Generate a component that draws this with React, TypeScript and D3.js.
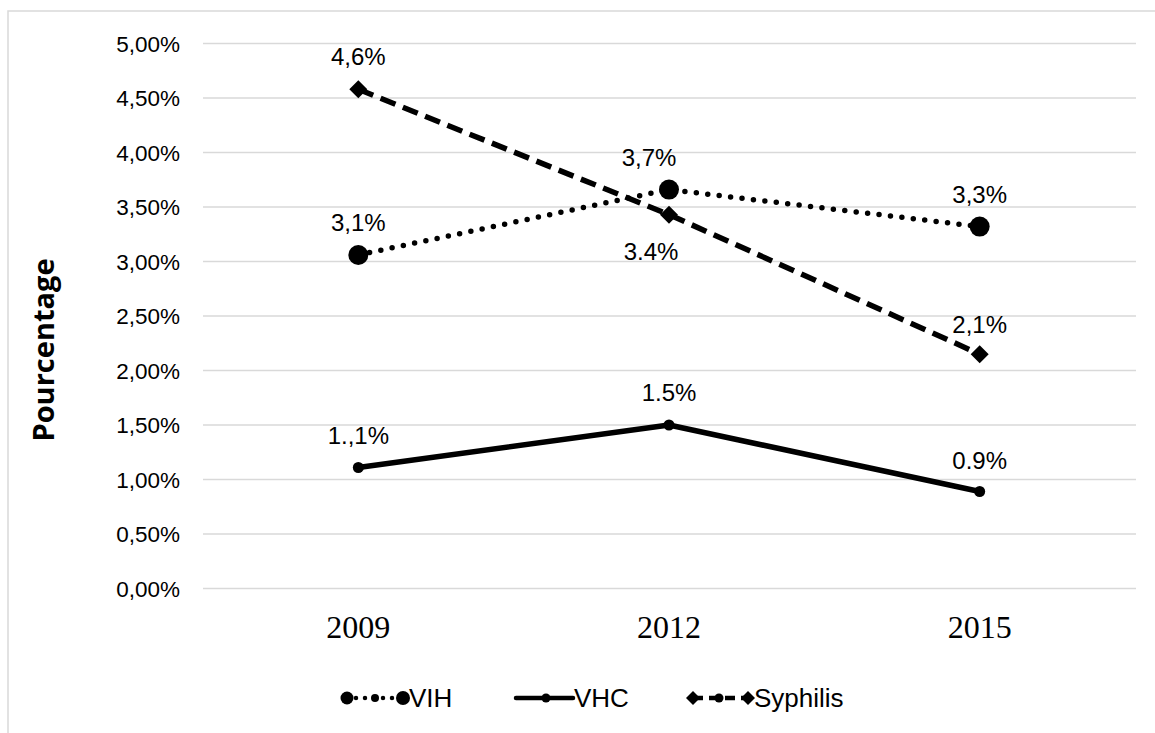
import React from 'react';
import * as d3 from 'd3';

const years = ['2009', '2012', '2015'];
const vihValues = [0.0306, 0.0366, 0.0332];
const vhcValues = [0.0111, 0.015, 0.0089];
const syphilisValues = [0.0458, 0.0343, 0.0215];
const vihLabels = ['3,1%', '3,7%', '3,3%'];
const vhcLabels = ['1.,1%', '1.5%', '0.9%'];
const syphilisLabels = ['4,6%', '3.4%', '2,1%'];
const yTicks = d3.range(0, 11).map(i => i * 0.005);

const W = 1155;
const H = 733;
const plot = { left: 203, right: 1135, top: 43.5, bottom: 588.5 };
const narrow = "'Liberation Sans Narrow', 'Liberation Sans', Arial, sans-serif";

const frLocale = d3.formatLocale({ decimal: ',', thousands: ' ', grouping: [3], currency: ['', '€'] });
const tickFormat = frLocale.format('.2%');

// label nudges (dx, dy from the point)
const vihLabelPos = [[0, -24], [-20, -24], [0, -24]];
const vhcLabelPos = [[0, -24], [0, -24], [0, -22]];
const syphilisLabelPos = [[0, -24], [-18, 45], [0, -21]];

const App = () => {
  const x = d3.scaleBand().domain(years).range([plot.left, plot.right]).padding(0);
  const y = d3.scaleLinear().domain([0, 0.05]).range([plot.bottom, plot.top]);
  const cx = (yr: string) => (x(yr) as number) + x.bandwidth() / 2;

  const line = d3.line<number>()
    .x((_, i) => cx(years[i]))
    .y(d => y(d));

  const diamond = (px: number, py: number, r: number) =>
    `M${px},${py - r}L${px + r},${py}L${px},${py + r}L${px - r},${py}Z`;

  const labels = (vals: number[], texts: string[], pos: number[][]) =>
    vals.map((v, i) => (
      <text key={i} x={cx(years[i]) + pos[i][0]} y={y(v) + pos[i][1]}
        textAnchor="middle" fontFamily={narrow} fontSize={24} fill="#000">
        {texts[i]}
      </text>
    ));

  const legendY = 698;

  return (
    <svg width={W} height={H} viewBox={`0 0 ${W} ${H}`}
      style={{ position: 'absolute', left: 0, top: 0, background: '#fff' }}>
      <rect x={8} y={11} width={1300} height={900} fill="#fff" stroke="#d9d9d9" strokeWidth={1.5} />

      {/* gridlines + y ticks */}
      {yTicks.map(t => (
        <g key={t}>
          <line x1={plot.left} x2={plot.right + 1} y1={y(t)} y2={y(t)} stroke="#d9d9d9" strokeWidth={1.5} />
          <text x={180} y={y(t)} dy="0.36em" textAnchor="end" fontFamily={narrow} fontSize={22.5} fill="#000">
            {tickFormat(t)}
          </text>
        </g>
      ))}

      {/* x labels */}
      {years.map(yr => (
        <text key={yr} x={cx(yr)} y={638} textAnchor="middle"
          fontFamily="'Liberation Serif', 'Times New Roman', serif" fontSize={32} fill="#000">
          {yr}
        </text>
      ))}

      <text transform={`translate(54,350) rotate(-90)`} textAnchor="middle"
        fontFamily="'Open Sans', sans-serif" fontWeight="bold" fontSize={29} fill="#000">
        Pourcentage
      </text>

      {/* VHC */}
      <path d={line(vhcValues) || ''} fill="none" stroke="#000" strokeWidth={5.5} strokeLinejoin="round" />
      {vhcValues.map((v, i) => <circle key={i} cx={cx(years[i])} cy={y(v)} r={5.5} fill="#000" />)}

      {/* VIH */}
      <path d={line(vihValues) || ''} fill="none" stroke="#000" strokeWidth={5.5}
        strokeDasharray="0 11.5" strokeLinecap="round" />
      {vihValues.map((v, i) => <circle key={i} cx={cx(years[i])} cy={y(v)} r={10} fill="#000" />)}

      {/* Syphilis */}
      <path d={line(syphilisValues) || ''} fill="none" stroke="#000" strokeWidth={5.5}
        strokeDasharray="16 8" />
      {syphilisValues.map((v, i) => <path key={i} d={diamond(cx(years[i]), y(v), 9)} fill="#000" />)}

      {labels(vihValues, vihLabels, vihLabelPos)}
      {labels(vhcValues, vhcLabels, vhcLabelPos)}
      {labels(syphilisValues, syphilisLabels, syphilisLabelPos)}

      {/* legend */}
      <g>
        <line x1={347} x2={403} y1={legendY} y2={legendY} stroke="#000" strokeWidth={4.5}
          strokeDasharray="0 9" strokeLinecap="round" />
        <circle cx={347} cy={legendY} r={6.5} fill="#000" />
        <circle cx={375} cy={legendY} r={4} fill="#000" />
        <circle cx={403} cy={legendY} r={7} fill="#000" />
        <text x={409} y={legendY} dy="0.36em" fontFamily={narrow} fontSize={26}>VIH</text>

        <line x1={516} x2={573} y1={legendY} y2={legendY} stroke="#000" strokeWidth={4.5} strokeLinecap="round" />
        <circle cx={546} cy={legendY} r={4.5} fill="#000" />
        <text x={574} y={legendY} dy="0.36em" fontFamily={narrow} fontSize={26}>VHC</text>

        <line x1={693} x2={748} y1={legendY} y2={legendY} stroke="#000" strokeWidth={4.5}
          strokeDasharray="10 6" />
        <path d={diamond(693, legendY, 7)} fill="#000" />
        <circle cx={719} cy={legendY} r={4.5} fill="#000" />
        <path d={diamond(748, legendY, 7)} fill="#000" />
        <text x={754} y={legendY} dy="0.36em" fontFamily={narrow} fontSize={26}>Syphilis</text>
      </g>
    </svg>
  );
};

export default App;
